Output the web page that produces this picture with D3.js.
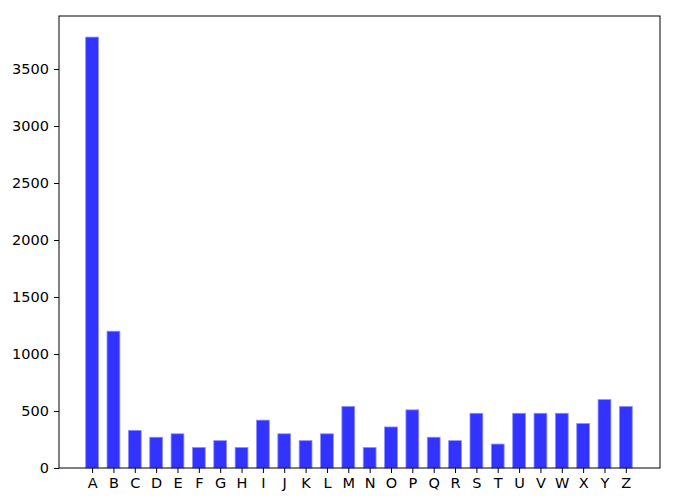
<!DOCTYPE html>
<html><head><meta charset="utf-8">
<script src="https://cdn.jsdelivr.net/npm/d3@7"></script>
<style>body{margin:0;background:#fff}text{font-family:"DejaVu Sans",sans-serif}</style>
</head><body><svg id="c" width="676" height="504"></svg>
<script>
const categories = ["A","B","C","D","E","F","G","H","I","J","K","L","M","N","O","P","Q","R","S","T","U","V","W","X","Y","Z"];
const values = [3780,1200,330,270,300,180,240,180,420,300,240,300,540,180,360,510,270,240,480,210,480,480,480,390,600,540];
const yTicks = [0,500,1000,1500,2000,2500,3000,3500];

const svg = d3.select("#c");
const L = 59, R = 660, T = 16, B = 468;
const x = d3.scaleLinear().domain([-1.55, 26.6]).range([L, R]);
const y = d3.scaleLinear().domain([0, 3965]).range([B, T]);
const bw = 0.6 * (x(1) - x(0));

svg.append("g").selectAll("rect").data(values).join("rect")
  .attr("x", (d, i) => x(i) - bw / 2)
  .attr("y", d => y(d))
  .attr("width", bw)
  .attr("height", d => y(0) - y(d))
  .attr("fill", "#3333ff")
  .attr("stroke", "#8f8fff")
  .attr("stroke-width", 0.8);

const xa = svg.append("g").attr("transform", `translate(0,${B})`)
  .call(d3.axisBottom(x).tickValues(d3.range(categories.length)).tickFormat(i => categories[i]).tickSize(5).tickPadding(5));
const ya = svg.append("g").attr("transform", `translate(${L},0)`)
  .call(d3.axisLeft(y).tickValues(yTicks).tickFormat(d3.format("d")).tickSize(5).tickPadding(5));
[xa, ya].forEach(a => {
  a.select(".domain").remove();
  a.selectAll("text").attr("font-size", 14.5).attr("fill", "#000").attr("font-family", "DejaVu Sans");
  a.selectAll("line").attr("stroke", "#000").attr("stroke-width", 1);
});
svg.append("rect").attr("x", L).attr("y", T).attr("width", R - L).attr("height", B - T)
  .attr("fill", "none").attr("stroke", "#000").attr("stroke-width", 1);
</script></body></html>
